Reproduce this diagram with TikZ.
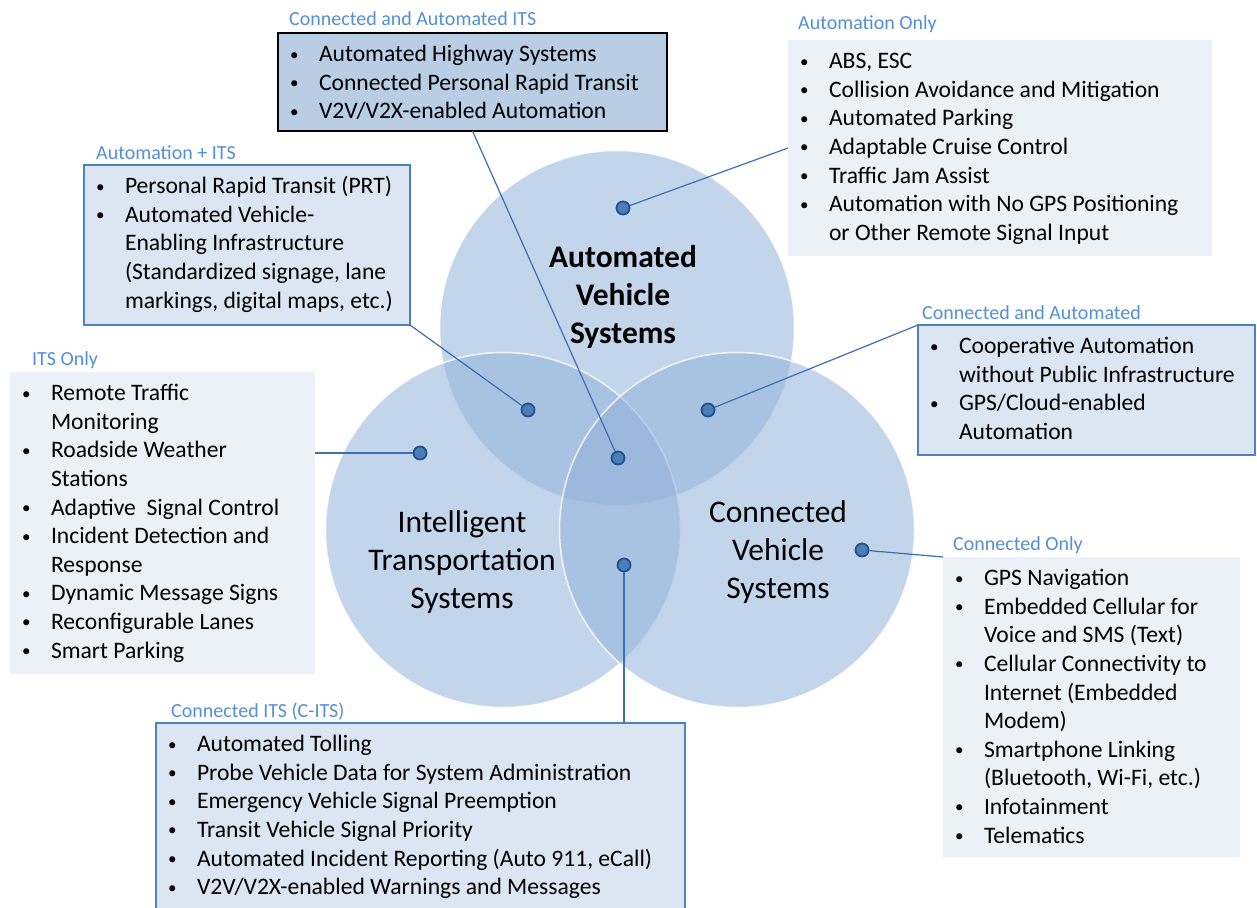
\documentclass[tikz,border=0pt]{standalone}
\usepackage{fontspec}
\setmainfont{Carlito}
\definecolor{vennblue}{RGB}{146,178,218}
\definecolor{titleblue}{RGB}{85,142,213}
\definecolor{boxdark}{RGB}{185,205,229}
\definecolor{boxmid}{RGB}{220,230,242}
\definecolor{boxlite}{RGB}{236,241,248}
\definecolor{edgeblue}{RGB}{79,129,189}
\definecolor{linkblue}{RGB}{60,110,180}
\definecolor{dotfill}{RGB}{74,126,187}
\definecolor{dotedge}{RGB}{38,80,135}
% list box: width, height, items
\newcommand{\listbox}[3]{\parbox[c][#2][t]{#1}{\fontsize{23.6}{28.6}\selectfont
  \raggedright\leftskip=12pt\relax\vspace*{8.6pt}#3}}
\newcommand{\bitem}[1]{\par\noindent\hangindent=29pt\hangafter=1
  \strut\makebox[29pt][l]{\raisebox{1.6pt}{\fontsize{17}{17}\selectfont\textbullet}}#1\par}
\begin{document}
\begin{tikzpicture}[x=1pt,y=-1pt,
    venn/.style={circle,minimum size=355pt,inner sep=0pt,fill=vennblue,
      fill opacity=0.55,draw=white,draw opacity=0.8,line width=1.5pt},
    vennlabel/.style={align=center,font=\fontsize{31.5}{38.3}\selectfont},
    listbase/.style={anchor=north west,inner sep=0pt,outer sep=0pt},
    darkbox/.style={listbase,fill=boxdark,draw=black,line width=1.6pt},
    midbox/.style={listbase,fill=boxmid,draw=edgeblue,line width=1.2pt},
    litebox/.style={listbase,fill=boxlite},
    heading/.style={anchor=west,inner sep=0pt,text=titleblue,
      font=\fontsize{20}{23}\selectfont},
    dot/.style={circle,fill=dotfill,draw=dotedge,line width=1.8pt,
      minimum size=13pt,inner sep=0pt},
    link/.style={draw=linkblue,line width=1.2pt}]
  \useasboundingbox (0,0) rectangle (1257,907);

  % the three systems
  \node[venn] (circAV) at (617,328) {};
  \node[venn] (circITS) at (503,530) {};
  \node[venn] (circCV) at (737,530) {};
  \node[vennlabel,font=\fontsize{31.5}{38.3}\selectfont\bfseries] (labAV) at (623,297)
    {Automated\\Vehicle\\Systems};
  \node[vennlabel] (labITS) at (462,562) {Intelligent\\Transportation\\Systems};
  \node[vennlabel] (labCV) at (778,552) {Connected\\Vehicle\\Systems};

  % lists
  \node[darkbox] (boxCAI) at (278,33) {\listbox{389pt}{98pt}{%
    \bitem{Automated Highway Systems}
    \bitem{Connected Personal Rapid Transit}
    \bitem{V2V/V2X-enabled Automation}}};
  \node[heading] (headCAI) at (289,19) {Connected and Automated ITS};

  \node[litebox] (boxA) at (788,40) {\listbox{424pt}{216pt}{%
    \bitem{ABS, ESC}
    \bitem{Collision Avoidance and Mitigation}
    \bitem{Automated Parking}
    \bitem{Adaptable Cruise Control}
    \bitem{Traffic Jam Assist}
    \bitem{Automation with No GPS Positioning\newline or Other Remote Signal Input}}};
  \node[heading] (headA) at (798,24) {Automation Only};

  \node[midbox] (boxAI) at (84,165) {\listbox{326pt}{160pt}{%
    \bitem{Personal Rapid Transit (PRT)}
    \bitem{Automated Vehicle-\newline Enabling Infrastructure\newline
      (Standardized signage, lane\newline markings, digital maps, etc.)}}};
  \node[heading] (headAI) at (96,153) {Automation + ITS};

  \node[litebox] (boxI) at (10,372) {\listbox{305pt}{302pt}{%
    \bitem{Remote Traffic\newline Monitoring}
    \bitem{Roadside Weather\newline Stations}
    \bitem{Adaptive\ \ Signal Control}
    \bitem{Incident Detection and\newline Response}
    \bitem{Dynamic Message Signs}
    \bitem{Reconfigurable Lanes}
    \bitem{Smart Parking}}};
  \node[heading] (headI) at (32,360) {ITS Only};

  \node[midbox] (boxCA) at (918,325) {\listbox{337pt}{130pt}{%
    \bitem{Cooperative Automation\newline without Public Infrastructure}
    \bitem{GPS/Cloud-enabled\newline Automation}}};
  \node[heading] (headCA) at (922,313) {Connected and Automated};

  \node[litebox] (boxC) at (943,557) {\listbox{297pt}{300pt}{%
    \bitem{GPS Navigation}
    \bitem{Embedded Cellular for\newline Voice and SMS (Text)}
    \bitem{Cellular Connectivity to\newline Internet (Embedded\newline Modem)}
    \bitem{Smartphone Linking\newline (Bluetooth, Wi-Fi, etc.)}
    \bitem{Infotainment}
    \bitem{Telematics}}};
  \node[heading] (headC) at (953,545) {Connected Only};

  \node[midbox] (boxCI) at (156,723) {\listbox{529pt}{192pt}{%
    \bitem{Automated Tolling}
    \bitem{Probe Vehicle Data for System Administration}
    \bitem{Emergency Vehicle Signal Preemption}
    \bitem{Transit Vehicle Signal Priority}
    \bitem{Automated Incident Reporting (Auto 911, eCall)}
    \bitem{V2V/V2X-enabled Warnings and Messages}}};
  \node[heading] (headCI) at (171,712) {Connected ITS (C-ITS)};

  % markers
  \node[dot] (dotA) at (623,208) {};
  \node[dot] (dotAI) at (528,410) {};
  \node[dot] (dotCAI) at (618,458) {};
  \node[dot] (dotCA) at (708,410) {};
  \node[dot] (dotI) at (420,453) {};
  \node[dot] (dotC) at (862,550) {};
  \node[dot] (dotCI) at (624,565) {};

  \draw[link] (dotA) -- (boxA.west);
  \draw[link] (dotAI) -- (boxAI.south east);
  \draw[link] (dotCAI) -- (boxCAI.south);
  \draw[link] (dotCA) -- (boxCA.north west);
  \draw[link] (dotI) -- (dotI -| boxI.east);
  \draw[link] (dotC) -- (boxC.north west);
  \draw[link] (dotCI) -- (dotCI |- boxCI.north);
\end{tikzpicture}
\end{document}
